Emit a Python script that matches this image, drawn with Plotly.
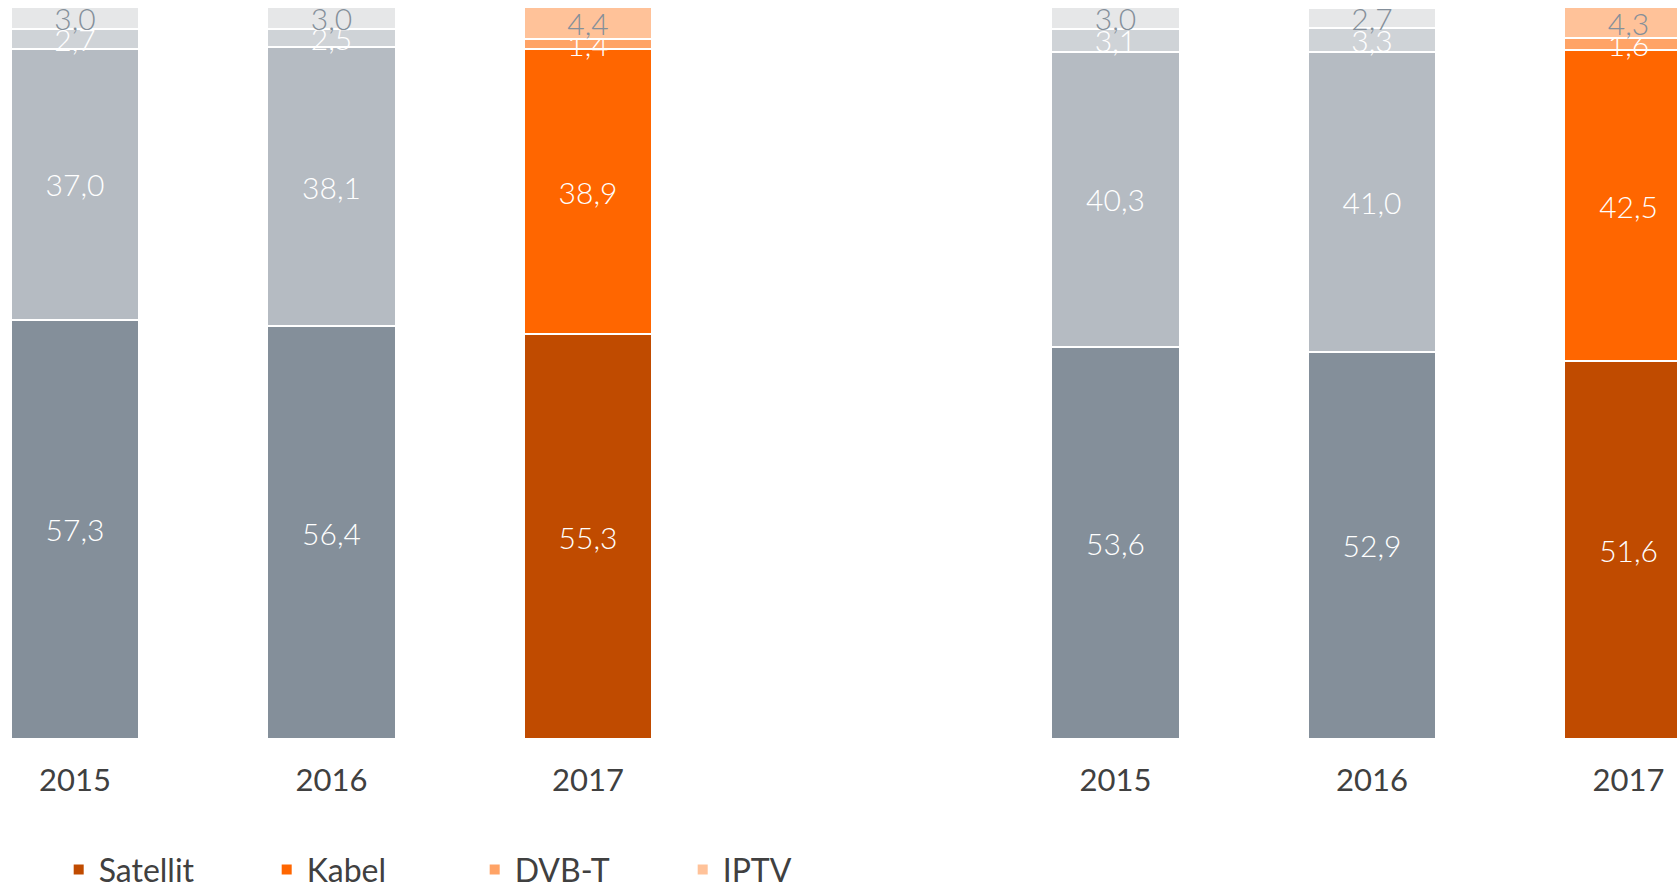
import plotly.graph_objects as go

years = ["2015", "2016", "2017"]
series = ["Satellit", "Kabel", "DVB-T", "IPTV"]

satellit_left = [57.3, 56.4, 55.3]
kabel_left = [37.0, 38.1, 38.9]
dvbt_left = [2.7, 2.5, 1.4]
iptv_left = [3.0, 3.0, 4.4]

satellit_right = [53.6, 52.9, 51.6]
kabel_right = [40.3, 41.0, 42.5]
dvbt_right = [3.1, 3.3, 1.6]
iptv_right = [3.0, 2.7, 4.3]

grey_colors = ["#848f9a", "#b5bbc2", "#cfd3d7", "#e6e7e8"]
orange_colors = ["#c04b00", "#ff6600", "#ffa366", "#ffc299"]
label_colors = ["#ffffff", "#ffffff", "#ffffff", "#848f9a"]

FONT = "Lato"

def fmt(v):
    return f"{v:.1f}".replace(".", ",")

fig = go.Figure()

panels = [
    ("x", "y", [satellit_left, kabel_left, dvbt_left, iptv_left], True),
    ("x2", "y", [satellit_right, kabel_right, dvbt_right, iptv_right], False),
]

BAR_W = 0.5
label_font = dict(family=FONT, size=30, weight=300)
for xa, ya, vals, legend in panels:
    for i, name in enumerate(series):
        v = vals[i]
        fig.add_trace(go.Bar(
            x=years[:2], y=v[:2], xaxis=xa, yaxis=ya, name=name,
            width=BAR_W,
            marker=dict(color=grey_colors[i], line=dict(color="#ffffff", width=2)),
            text=[fmt(t) for t in v[:2]], textposition="inside",
            insidetextanchor="middle", constraintext="none", textangle=0,
            textfont=dict(color=label_colors[i], **label_font),
            showlegend=False, hoverinfo="skip",
        ))
    for i, name in enumerate(series):
        v = vals[i]
        fig.add_trace(go.Bar(
            x=years[2:], y=v[2:], xaxis=xa, yaxis=ya, name=name,
            width=BAR_W,
            marker=dict(color=orange_colors[i], line=dict(color="#ffffff", width=2)),
            text=[fmt(t) for t in v[2:]], textposition="inside",
            insidetextanchor="middle", constraintext="none", textangle=0,
            textfont=dict(color=label_colors[i], **label_font),
            showlegend=legend, legendgroup=name, hoverinfo="skip",
        ))

axis_common = dict(
    type="category", categoryorder="array", categoryarray=years,
    showgrid=False, zeroline=False, showline=False, ticks="",
    tickfont=dict(family=FONT, size=31, color="#404040"),
    ticklabelstandoff=20,
    fixedrange=True,
)

fig.update_layout(
    width=1677, height=883,
    barmode="stack",
    plot_bgcolor="#ffffff", paper_bgcolor="#ffffff",
    margin=dict(l=0, r=0, t=7, b=144),
    xaxis=dict(domain=[0, 0.45], range=[-0.2924, 2.6497], anchor="y", **axis_common),
    xaxis2=dict(domain=[0.55, 1.0], range=[-0.753, 2.189], anchor="y", **axis_common),
    yaxis=dict(range=[0, 100], visible=False, fixedrange=True),
    legend=dict(
        orientation="h", traceorder="normal",
        x=0.035, xanchor="left", yref="container", y=0.015, yanchor="middle",
        entrywidth=163, entrywidthmode="pixels",
        font=dict(family=FONT, size=32, color="#404040"),
        bgcolor="rgba(0,0,0,0)",
    ),
)

fig.write_html(
    "out.html",
    config={"displayModeBar": False, "staticPlot": True},
    post_script="document.body.style.margin='0';document.body.style.overflow='hidden';",
)
